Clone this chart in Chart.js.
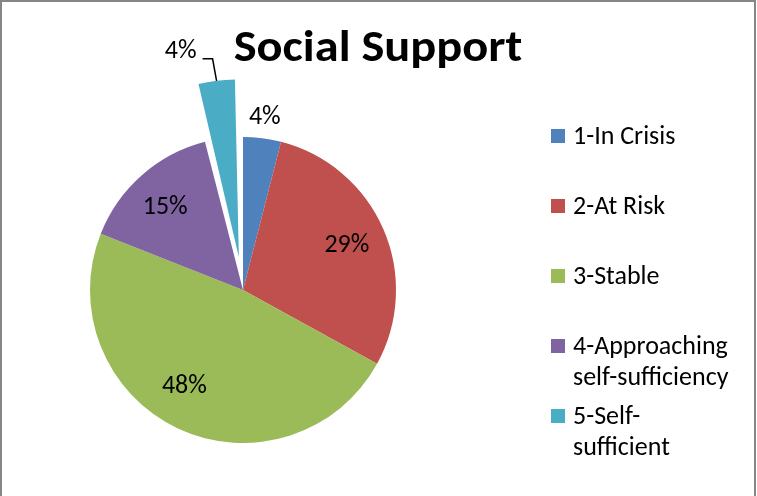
<!DOCTYPE html>
<html>
<head>
<meta charset="utf-8">
<title>Social Support</title>
<script src="https://cdn.jsdelivr.net/npm/chart.js@4"></script>
<style>
  html, body { margin: 0; padding: 0; background: #fff; }
  #wrap { width: 757px; height: 496px; }
</style>
</head>
<body>
<div id="wrap"><canvas id="chart" width="757" height="496"></canvas></div>
<script>
const TITLE = 'Social Support';
const categories = ['1-In Crisis', '2-At Risk', '3-Stable', ['4-Approaching', 'self-sufficiency'], ['5-Self-', 'sufficient']];
const shares = [4, 29, 48, 15, 4];
const colors = ['#4F81BD', '#C0504D', '#9BBB59', '#8064A2', '#4BACC6'];

const FONT = 'Carlito, Lato, "Open Sans", sans-serif';
const PIE_RADIUS = 153;
// how each percentage label sits relative to its slice, plus a small angle nudge (degrees)
const labelPlace = ['outside', 'inside', 'inside', 'inside', 'callout'];
const labelNudge = [0, 0, 6, -2, 0];

// Chart.js moves an offset arc by offset/4 * (1 + fix); mirror that for the callout
function arcShift(el) {
  const off = (el.options.offset || 0) / 4;
  const fix = 1 - Math.sin(Math.min(Math.PI, el.circumference || 0));
  return off + off * fix;
}

// text drawn slightly wide, like the original chart's stretched lettering
function wideText(ctx, text, x, y, sx) {
  ctx.save();
  ctx.translate(x, y);
  ctx.scale(sx, 1);
  ctx.fillText(text, 0, 0);
  ctx.restore();
}

const decorations = {
  id: 'decorations',
  beforeDraw(chart) {
    const { ctx, width, height } = chart;
    ctx.save();
    ctx.fillStyle = '#fff';
    ctx.fillRect(0, 0, width, height);
    ctx.strokeStyle = '#868686';
    ctx.lineWidth = 2;
    ctx.beginPath();
    ctx.moveTo(1, height);
    ctx.lineTo(1, 1);
    ctx.lineTo(width - 2, 1);
    ctx.lineTo(width - 2, height);
    ctx.stroke();
    ctx.restore();
  },
  afterDatasetsDraw(chart) {
    const { ctx } = chart;
    const meta = chart.getDatasetMeta(0);
    const total = shares.reduce((a, b) => a + b, 0);

    ctx.save();
    // title
    ctx.fillStyle = '#000';
    ctx.font = `bold 44px ${FONT}`;
    ctx.textAlign = 'center';
    ctx.textBaseline = 'alphabetic';
    wideText(ctx, TITLE, 378, 61, 1.1);

    // percentage labels
    ctx.font = `26px ${FONT}`;
    ctx.textBaseline = 'middle';
    meta.data.forEach((el, i) => {
      const { x, y, startAngle, endAngle, outerRadius } = el.getProps(['x', 'y', 'startAngle', 'endAngle', 'outerRadius'], true);
      const mid = (startAngle + endAngle) / 2 + labelNudge[i] * Math.PI / 180;
      const cos = Math.cos(mid), sin = Math.sin(mid);
      const text = Math.round(shares[i] / total * 100) + '%';
      const place = labelPlace[i];
      if (place === 'inside') {
        ctx.textAlign = 'center';
        ctx.fillText(text, x + cos * outerRadius * 0.74, y + sin * outerRadius * 0.74);
      } else if (place === 'outside') {
        ctx.textAlign = 'center';
        ctx.fillText(text, x + cos * (outerRadius + 21), y + sin * (outerRadius + 21));
      } else {
        const d = arcShift(el) + outerRadius;
        const px = x + cos * d, py = y + sin * d;
        ctx.strokeStyle = '#000';
        ctx.lineWidth = 1.5;
        ctx.beginPath();
        ctx.moveTo(px, py);
        ctx.lineTo(px - 4, py - 22);
        ctx.lineTo(px - 14, py - 22);
        ctx.stroke();
        ctx.textAlign = 'right';
        ctx.fillText(text, px - 20, py - 29);
      }
    });

    // legend
    ctx.font = `26px ${FONT}`;
    ctx.textAlign = 'left';
    categories.forEach((label, i) => {
      const lines = Array.isArray(label) ? label : [label];
      const cy = 136 + i * 70;
      ctx.fillStyle = colors[i];
      ctx.fillRect(551, cy - 7, 14, 14);
      ctx.fillStyle = '#000';
      lines.forEach((line, j) => ctx.fillText(line, 573, cy + 1 + j * 31));
    });
    ctx.restore();
  }
};

new Chart(document.getElementById('chart'), {
  type: 'pie',
  data: {
    labels: categories,
    datasets: [{
      data: shares,
      backgroundColor: colors,
      borderWidth: 0,
      // last slice pulled out of the pie
      offset: [0, 0, 0, 0, 132],
      radius: PIE_RADIUS
    }]
  },
  options: {
    responsive: false,
    animation: false,
    layout: { padding: { left: 61, right: 332, top: 108, bottom: 24 } },
    plugins: {
      legend: { display: false },
      title: { display: false },
      tooltip: { enabled: false }
    }
  },
  plugins: [decorations]
});
</script>
</body>
</html>
